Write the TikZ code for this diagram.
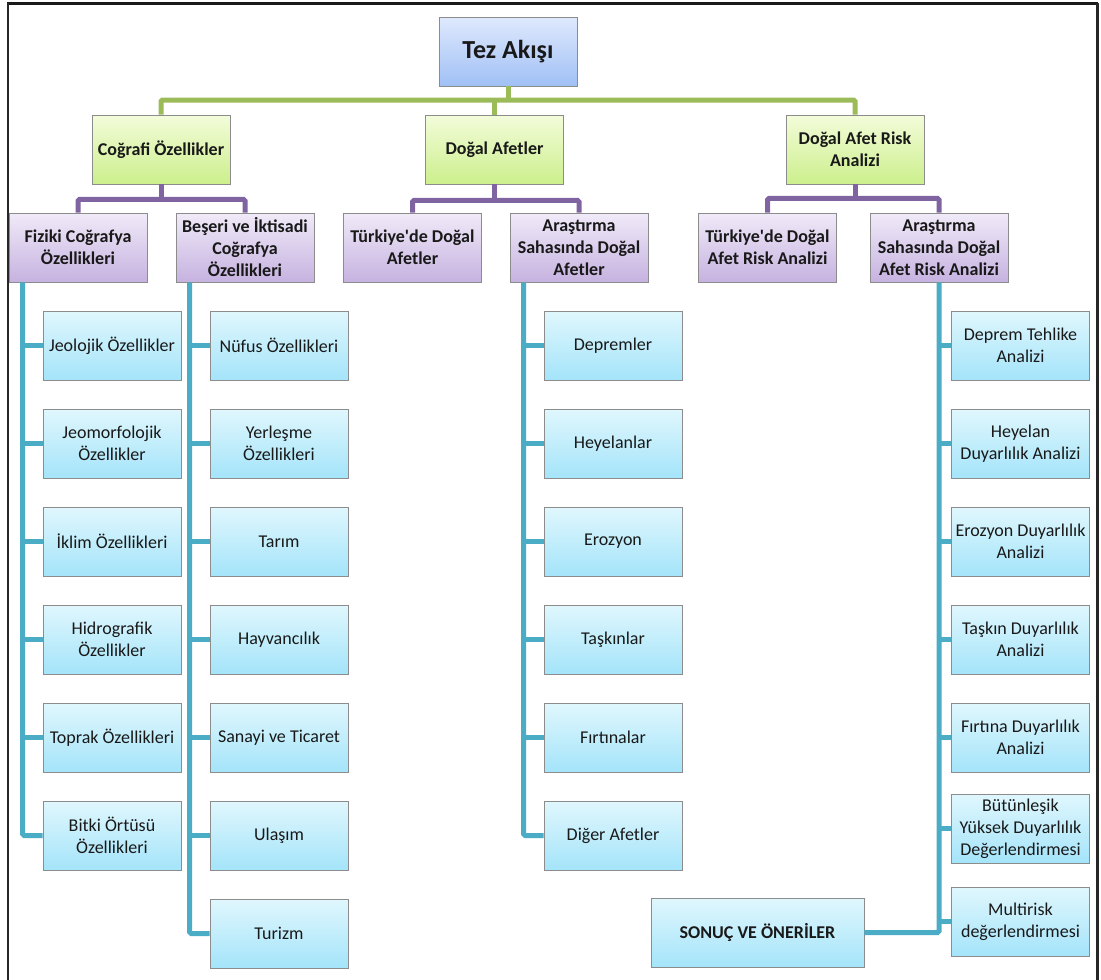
\documentclass[tikz,border=0pt]{standalone}
\usepackage{fontspec}
\setmainfont{Carlito}
\usetikzlibrary{calc}
\definecolor{lnGreen}{HTML}{9BBB59}
\definecolor{lnPurple}{HTML}{8064A2}
\definecolor{lnBlue}{HTML}{4BACC6}
\definecolor{edgeGray}{HTML}{8C8C8C}
\tikzset{
  basebox/.style={draw=edgeGray, line width=0.9pt, minimum width=138pt, minimum height=69pt,
    align=center, inner sep=2pt, font=\fontsize{18}{22}\selectfont, text=black!90},
  topbox/.style={basebox, top color={rgb,255:red,223;green,233;blue,253}, bottom color={rgb,255:red,160;green,192;blue,245},
    font=\fontsize{26}{30}\selectfont\bfseries},
  greenbox/.style={basebox, top color={rgb,255:red,243;green,252;blue,218}, bottom color={rgb,255:red,204;green,239;blue,140},
    font=\fontsize{18}{22}\selectfont\bfseries},
  purplebox/.style={basebox, top color={rgb,255:red,240;green,234;blue,248}, bottom color={rgb,255:red,198;green,178;blue,224},
    font=\fontsize{18}{22}\selectfont\bfseries},
  leafbox/.style={basebox, top color={rgb,255:red,224;green,247;blue,253}, bottom color={rgb,255:red,164;green,228;blue,250}},
  gline/.style={draw=lnGreen, line width=5pt, rounded corners=1.5pt},
  pline/.style={draw=lnPurple, line width=5pt, rounded corners=1.5pt},
  bline/.style={draw=lnBlue, line width=5pt, rounded corners=1.5pt},
}
\newcommand{\apos}{\textquotesingle}
\begin{document}
\begin{tikzpicture}[x=1pt,y=-1pt]
\useasboundingbox (0,0) rectangle (1101,980);
% page frame
\draw[line width=3pt, black!90] (7,3) -- (1098,3);
\draw[line width=2pt, black!85] (8,3) -- (8,980);
\draw[line width=3pt, black!85] (1097,3) -- (1097,980);

% root
\node[topbox] (tez) at (508,51.5) {Tez Akışı};
% level 1
\node[greenbox] (cog) at (161,149.5) {Coğrafi Özellikler};
\node[greenbox] (dog) at (494.5,149.5) {Doğal Afetler};
\node[greenbox] (dar) at (855,149.5) {Doğal Afet Risk\\Analizi};
% level 2
\node[purplebox] (fiz) at (78,247.5) {Fiziki Coğrafya\\Özellikleri};
\node[purplebox] (bes) at (245,247.5) {Beşeri ve İktisadi\\Coğrafya\\Özellikleri};
\node[purplebox] (tda) at (412.5,247.5) {Türkiye\apos de Doğal\\Afetler};
\node[purplebox] (ada) at (579,247.5) {Araştırma\\Sahasında Doğal\\Afetler};
\node[purplebox] (tdr) at (767.5,247.5) {Türkiye\apos de Doğal\\Afet Risk Analizi};
\node[purplebox] (adr) at (939,247.5) {Araştırma\\Sahasında Doğal\\Afet Risk Analizi};

% column 1
\node[leafbox] (c1a) at (112,345.5) {Jeolojik Özellikler};
\node[leafbox] (c1b) at (112,443.5) {Jeomorfolojik\\Özellikler};
\node[leafbox] (c1c) at (112,541.5) {İklim Özellikleri};
\node[leafbox] (c1d) at (112,639.5) {Hidrografik\\Özellikler};
\node[leafbox] (c1e) at (112,737.5) {Toprak Özellikleri};
\node[leafbox] (c1f) at (112,835.5) {Bitki Örtüsü\\Özellikleri};
% column 2
\node[leafbox] (c2a) at (279,345.5) {Nüfus Özellikleri};
\node[leafbox] (c2b) at (279,443.5) {Yerleşme\\Özellikleri};
\node[leafbox] (c2c) at (279,541.5) {Tarım};
\node[leafbox] (c2d) at (279,639.5) {Hayvancılık};
\node[leafbox] (c2e) at (279,737.5) {Sanayi ve Ticaret};
\node[leafbox] (c2f) at (279,835.5) {Ulaşım};
\node[leafbox] (c2g) at (279,933.5) {Turizm};
% column 3
\node[leafbox] (c3a) at (613,345.5) {Depremler};
\node[leafbox] (c3b) at (613,443.5) {Heyelanlar};
\node[leafbox] (c3c) at (613,541.5) {Erozyon};
\node[leafbox] (c3d) at (613,639.5) {Taşkınlar};
\node[leafbox] (c3e) at (613,737.5) {Fırtınalar};
\node[leafbox] (c3f) at (613,835.5) {Diğer Afetler};
% column 4
\node[leafbox] (c4a) at (1020.5,345.5) {Deprem Tehlike\\Analizi};
\node[leafbox] (c4b) at (1020.5,443.5) {Heyelan\\Duyarlılık Analizi};
\node[leafbox] (c4c) at (1020.5,541.5) {Erozyon Duyarlılık\\Analizi};
\node[leafbox] (c4d) at (1020.5,639.5) {Taşkın Duyarlılık\\Analizi};
\node[leafbox] (c4e) at (1020.5,737.5) {Fırtına Duyarlılık\\Analizi};
\node[leafbox] (c4f) at (1020.5,828.5) {Bütünleşik\\Yüksek Duyarlılık\\Değerlendirmesi};
\node[leafbox] (c4g) at (1020.5,921.5) {Multirisk\\değerlendirmesi};
% conclusion
\node[leafbox, minimum width=213pt, font=\fontsize{18}{22}\selectfont\bfseries] (son) at (757.5,932.5) {SONUÇ VE ÖNERİLER};

% root to level 1
\coordinate (gbus) at (0,100);
\draw[gline] (tez.south) -- (tez.south|-gbus);
\draw[gline] (cog.north) -- (cog.north|-gbus) -- (dar.north|-gbus) -- (dar.north);
\draw[gline] (dog.north) -- (dog.north|-gbus);

% level 1 to level 2
\draw[pline] (cog.south) -- ++(0,15) coordinate (pb1);
\draw[pline] (fiz.north) -- (fiz.north|-pb1) -- (bes.north|-pb1) -- (bes.north);
\draw[pline] (dog.south) -- ++(0,16) coordinate (pb2);
\draw[pline] (tda.north) -- (tda.north|-pb2) -- (ada.north|-pb2) -- (ada.north);
\draw[pline] (dar.south) -- ++(0,14) coordinate (pb3);
\draw[pline] (tdr.north) -- (tdr.north|-pb3) -- (adr.north|-pb3) -- (adr.north);

% spines
\coordinate (s1) at ([xshift=14pt]fiz.south west);
\draw[bline] (s1) |- (c1f.west);
\foreach \n in {c1a,c1b,c1c,c1d,c1e} \draw[bline] (s1|-\n.west) -- (\n.west);
\coordinate (s2) at ([xshift=14pt]bes.south west);
\draw[bline] (s2) |- (c2g.west);
\foreach \n in {c2a,c2b,c2c,c2d,c2e,c2f} \draw[bline] (s2|-\n.west) -- (\n.west);
\coordinate (s3) at ([xshift=14pt]ada.south west);
\draw[bline] (s3) |- (c3f.west);
\foreach \n in {c3a,c3b,c3c,c3d,c3e} \draw[bline] (s3|-\n.west) -- (\n.west);
\draw[bline] (adr.south) |- (son.east);
\foreach \n in {c4a,c4b,c4c,c4d,c4e,c4f,c4g} \draw[bline] (adr.south|-\n.west) -- (\n.west);
\end{tikzpicture}
\end{document}
